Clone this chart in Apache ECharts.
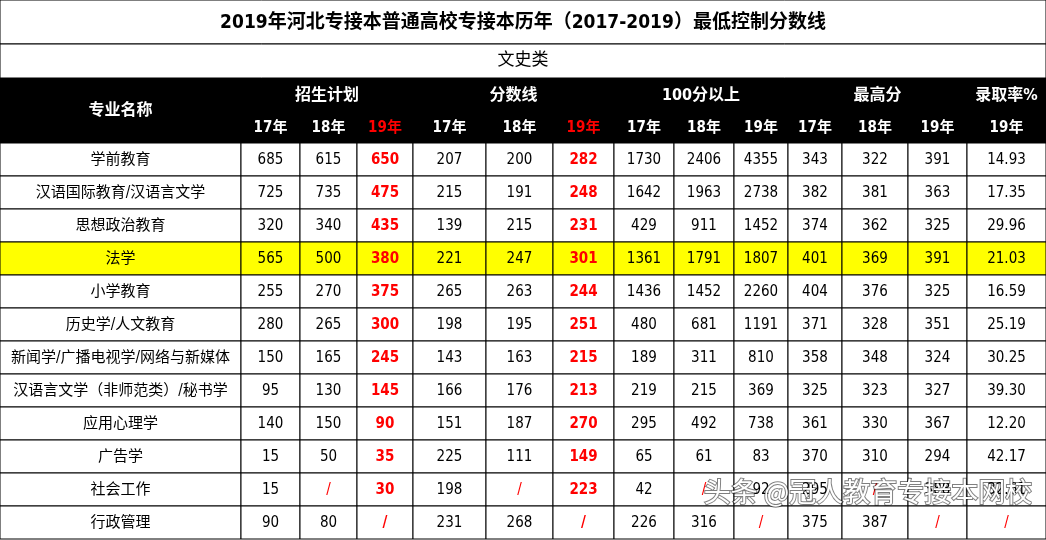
<!DOCTYPE html><html><head><meta charset="utf-8">
<script src="https://cdn.jsdelivr.net/npm/echarts@6/dist/echarts.min.js"></script>
<style>html,body{margin:0;padding:0;background:#fff}#c{width:1046px;height:540px}</style></head><body><div id="c"></div>
<script>
const title = '2019年河北专接本普通高校专接本历年（2017-2019）最低控制分数线';
const subtitle = '文史类';
const groups = ['招生计划','分数线','100分以上','最高分','录取率%'];
const years = ['17年','18年','19年','17年','18年','19年','17年','18年','19年','17年','18年','19年','19年'];
const majors = ['学前教育','汉语国际教育/汉语言文学','思想政治教育','法学','小学教育','历史学/人文教育','新闻学/广播电视学/网络与新媒体','汉语言文学（非师范类）/秘书学','应用心理学','广告学','社会工作','行政管理'];
const plan17 = ['685','725','320','565','255','280','150','95','140','15','15','90'];
const plan18 = ['615','735','340','500','270','265','165','130','150','50','/','80'];
const plan19 = ['650','475','435','380','375','300','245','145','90','35','30','/'];
const line17 = ['207','215','139','221','265','198','143','166','151','225','198','231'];
const line18 = ['200','191','215','247','263','195','163','176','187','111','/','268'];
const line19 = ['282','248','231','301','244','251','215','213','270','149','223','/'];
const over17 = ['1730','1642','429','1361','1436','480','189','219','295','65','42','226'];
const over18 = ['2406','1963','911','1791','1452','681','311','215','492','61','/','316'];
const over19 = ['4355','2738','1452','1807','2260','1191','810','369','738','83','92','/'];
const max17 = ['343','382','374','401','404','371','358','325','361','370','295','375'];
const max18 = ['322','381','362','369','376','328','348','323','330','310','/','387'];
const max19 = ['391','363','325','391','325','351','324','327','367','294','388','/'];
const rate19 = ['14.93','17.35','29.96','21.03','16.59','25.19','30.25','39.30','12.20','42.17','32.61','/'];
const cols = [plan17,plan18,plan19,line17,line18,line19,over17,over18,over19,max17,max18,max19,rate19];
const watermark = '头条 @冠人教育专接本网校';

// layout
const colEdges = [0,241,300,357,413,486,553,614,674,734,788,842,908,967,1046];
const groupSpans = [[1,4],[4,7],[7,10],[10,13],[13,14]];
const yTitle=[0,44], ySub=[44,78], yHead1=[78,110], yHead2=[110,143];
const rowTop = 143, rowH = 33;
const redCols = [3,6];
const hiRow = 3;
const F = "'DejaVu Sans Condensed','Noto Sans CJK SC',sans-serif";

const data = [];
data.push({value:[0,0,0], kind:'title'});
data.push({value:[0,0,0], kind:'sub'});
data.push({value:[0,0,0], kind:'headbg'});
majors.forEach((m,r)=>{
  data.push({value:[0,r,0], kind:'cell', text:m});
  cols.forEach((c,i)=>data.push({value:[i+1,r,0], kind:'cell', text:c[r]}));
});
data.push({value:[0,0,0], kind:'wm'});

function rect(api,x0,y0,x1,y1){const a=api.coord([x0,y0]),b=api.coord([x1,y1]);return {x:a[0],y:a[1],width:b[0]-a[0],height:b[1]-a[1]};}
function txt(api,x,y,t,fill,size,weight){const p=api.coord([x,y]);return {type:'text',style:{x:p[0],y:p[1],text:t,fill:fill,font:(weight||'normal')+' '+size+'px '+F,align:'center',verticalAlign:'middle'}};}

function render(params, api){
  const d = data[params.dataIndex];
  const ch=[];
  if(d.kind==='title'){
    ch.push({type:'rect',shape:rect(api,0,yTitle[0],1046,yTitle[1]),style:{fill:'#fff',stroke:'#000',lineWidth:1}});
    ch.push(txt(api,523,23,title,'#000',19,'bold'));
  } else if(d.kind==='sub'){
    ch.push({type:'rect',shape:rect(api,0,ySub[0],1046,ySub[1]),style:{fill:'#fff',stroke:'#000',lineWidth:1}});
    ch.push(txt(api,523,61,subtitle,'#000',17,'normal'));
  } else if(d.kind==='headbg'){
    ch.push({type:'rect',shape:rect(api,0,yHead1[0],1046,yHead2[1]),style:{fill:'#000'}});
    ch.push(txt(api,(colEdges[0]+colEdges[1])/2,(yHead1[0]+yHead2[1])/2,'专业名称','#fff',16,'bold'));
    groupSpans.forEach((g,i)=>{
      ch.push(txt(api,(colEdges[g[0]]+colEdges[g[1]])/2,(yHead1[0]+yHead1[1])/2+2,groups[i],'#fff',16,'bold'));
    });
    years.forEach((y,i)=>{
      ch.push(txt(api,(colEdges[i+1]+colEdges[i+2])/2,(yHead2[0]+yHead2[1])/2+2,y,redCols.includes(i+1)?'#ff0000':'#fff',15,'bold'));
    });
  } else if(d.kind==='wm'){
    const p=api.coord([868,492]);
    ch.push({type:'text',style:{x:p[0],y:p[1],text:watermark,fill:'#fff',font:'27px "Noto Sans CJK SC"',stroke:'rgba(0,0,0,0.5)',lineWidth:2,align:'center',verticalAlign:'middle'}});
  } else {
    const c=d.value[0], r=d.value[1];
    const y0=rowTop+r*rowH, y1=y0+rowH;
    ch.push({type:'rect',shape:rect(api,colEdges[c],y0,colEdges[c+1],y1),style:{fill:r===hiRow?'#ffff00':'#fff',stroke:'#000',lineWidth:1}});
    const red = redCols.includes(c) || d.text==='/';
    ch.push(txt(api,(colEdges[c]+colEdges[c+1])/2,(y0+y1)/2+1,d.text,red?'#ff0000':'#000',15,redCols.includes(c)?'bold':'normal'));
  }
  return {type:'group',children:ch};
}

const chart = echarts.init(document.getElementById('c'));
chart.setOption({
  animation:false,
  grid:{left:0,right:0,top:0,bottom:0},
  xAxis:{type:'value',min:0,max:1046,show:false},
  yAxis:{type:'value',min:0,max:540,inverse:true,show:false},
  series:[{type:'custom',renderItem:render,data:data,clip:false}]
});
</script></body></html>
